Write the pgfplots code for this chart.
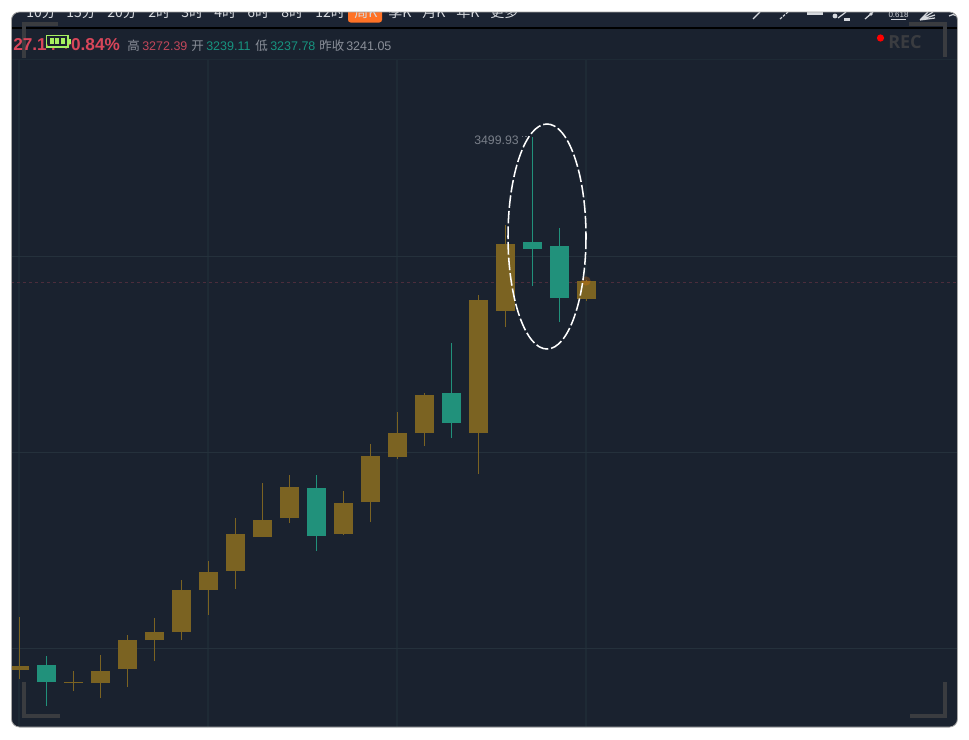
\documentclass[border=0pt]{standalone}
\usepackage{fontspec}
\setmainfont{Liberation Sans}
\newfontfamily\cjk{Noto Sans CJK SC}
\newfontfamily\recfont{Open Sans}
\usepackage{pgfplots}
\usepackage{pgfplotstable}
\pgfplotsset{compat=1.18}

\definecolor{bg}{HTML}{1A222F}
\definecolor{topbg}{HTML}{1C2433}
\definecolor{gridc}{HTML}{1E2A35}
\definecolor{gridh}{HTML}{25313C}
\definecolor{gold}{HTML}{7B6322}
\definecolor{teal2}{HTML}{21917B}
\definecolor{upred}{HTML}{D9465A}
\definecolor{txtred}{HTML}{C2475A}
\definecolor{txtteal}{HTML}{17937F}
\definecolor{greytxt}{HTML}{8A8F99}
\definecolor{bracket}{HTML}{3A3C40}
\definecolor{menu}{HTML}{D5D8DD}
\definecolor{batt}{HTML}{A6F060}

% i low bot top high (prices)
\pgfplotstableread{
i low bot top high
0 2633.2 2647.6 2654.0 2732.4
2 2614.0 2626.8 2628.4 2646.0
3 2602.8 2626.8 2646.0 2671.6
4 2620.4 2649.2 2695.6 2703.6
5 2662.0 2695.6 2708.4 2730.8
6 2695.6 2708.4 2775.6 2791.6
7 2735.6 2775.6 2804.4 2822.0
8 2777.2 2806.0 2865.2 2890.8
9 2860.4 2860.4 2887.6 2946.8
10 2882.8 2890.8 2940.4 2959.6
12 2863.6 2865.2 2914.8 2934.0
13 2884.4 2916.4 2990.0 3009.2
14 2985.2 2988.4 3026.8 3060.4
15 3006.0 3026.8 3087.6 3090.8
17 2961.2 3026.8 3239.6 3247.6
18 3196.4 3222.0 3329.2 3359.6
21 3237.78 3241.2 3270.0 3272.39
}\upcandles
\pgfplotstableread{
i low bot top high
1 2590.0 2628.4 2655.6 2670.0
11 2838.0 2862.0 2938.8 2959.6
16 3018.8 3042.8 3090.8 3170.8
19 3262.0 3321.2 3332.4 3499.93
20 3204.4 3242.8 3326.0 3354.8
}\downcandles

\newcommand{\fs}[1]{\fontsize{\fpeval{#1*0.75}pt}{\fpeval{#1*0.9}pt}\selectfont}

\begin{document}
\begin{tikzpicture}
\fill[white] (0,0) rectangle (726.75pt,-554.25pt);
\path[use as bounding box] (0,0) rectangle (726.75pt,-554.25pt);
\begin{scope}
\clip[rounded corners=6pt] (8.6pt,-9pt) rectangle (718.1pt,-545.25pt);
\fill[bg] (0,0) rectangle (726.75pt,-554.25pt);
\fill[topbg] (0,0) rectangle (726.75pt,-20.25pt);

\begin{axis}[
  at={(8.25pt,-545.25pt)}, anchor=south west,
  scale only axis, width=710.25pt, height=501pt,
  xmin=-0.2963, xmax=34.778, ymin=2556.4, ymax=3625.2,
  xtick={0,7,14,21}, ytick={2682.8,2996.4,3310},
  xticklabels={}, yticklabels={},
  major tick length=0pt,
  xmajorgrids, ymajorgrids,
  x grid style={gridc,line width=1.4pt},
  y grid style={gridh,line width=0.75pt},
  axis line style={gridc,line width=0.75pt},
]
  % dotted line at the last close
  \addplot[color=txtred!30!bg,line width=0.75pt,dash pattern=on 2.25pt off 2.25pt] coordinates {(-0.2963,3268.4) (34.778,3268.4)};

  % wicks
  \addplot[draw=none,error bars/.cd,y dir=plus,y explicit,error mark=none,
    error bar style={gold,line width=0.75pt}]
    table[x=i,y=low,y error expr=\thisrow{high}-\thisrow{low}] {\upcandles};
  \addplot[draw=none,error bars/.cd,y dir=plus,y explicit,error mark=none,
    error bar style={teal2,line width=0.75pt}]
    table[x=i,y=low,y error expr=\thisrow{high}-\thisrow{low}] {\downcandles};
  % bodies
  \addplot[draw=none,error bars/.cd,y dir=plus,y explicit,error mark=none,
    error bar style={gold,line width=14.25pt}]
    table[x=i,y=bot,y error expr=\thisrow{top}-\thisrow{bot}] {\upcandles};
  \addplot[draw=none,error bars/.cd,y dir=plus,y explicit,error mark=none,
    error bar style={teal2,line width=14.25pt}]
    table[x=i,y=bot,y error expr=\thisrow{top}-\thisrow{bot}] {\downcandles};
\end{axis}

\begin{scope}[x=0.75pt,y=-0.75pt]
% header line
\fill[black] (0,26.8) rectangle (969,28.6);

% menu, cut off by the top edge
\fill[rounded corners=2pt,fill=orange!70!red!85!white] (348,5) rectangle (382,22.5);
\foreach \x/\t in {26/10分,66/15分,107/20分,148/2时,181/3时,214/4时,247/6时,281/8时,315/12时,354/周K,388/季K,422/月K,456/年K,490/更多}
  \node[anchor=base west,inner sep=0pt,text=menu,font=\cjk\fs{14}] at (\x,17.5) {\t};

% right toolbar
\begin{scope}[menu,line width=0.9pt]
  \draw (753,19)--(760,12);
  \draw[dash pattern=on 2pt off 1pt] (780,19)--(788,12);
  \fill (807,12) rectangle (823,14.5);
  \draw (838,18)--(846,12);
  \fill (835,16) circle (1.8pt);
  \fill (844,18) rectangle (850,21);
  \draw (865,19)--(873,12);
  \fill (871,14) circle (1.4pt);
  \node[anchor=base,inner sep=0pt,font=\fs{8}] at (898.5,17) {0.618};
  \draw (891,19.5)--(906,19.5);
  \draw (920,20)--(933,12) (920,20)--(935,15) (920,20)--(928,12) (920,20)--(935,18);
  \draw (949,16) to[bend left=40] (957,16);
\end{scope}

% corner brackets
\begin{scope}[bracket,line width=2.5pt]
  \draw (24,58)--(24,24)--(58,24);
  \draw (909,24)--(945,24)--(945,57);
  \draw (24,682)--(24,716)--(60,716);
  \draw (910,716)--(945,716)--(945,682);
\end{scope}

% quote line
\node[anchor=base west,inner sep=0pt,text=upred,font=\bfseries\fs{17.2}] at (13,50) {27.14 +0.84\%};
\draw[draw=batt,line width=1pt] (46.5,35.5) rectangle (68,47);
\fill[batt] (68,38.5) rectangle (70.5,44);
\fill[bg] (47.5,36.5) rectangle (67,46);
\foreach \x in {49.5,55,60.5} \fill[batt] (\x,37.5) rectangle ++(4,6);
\foreach \x/\t/\c/\f in {127/高/greytxt/\cjk,191/开/greytxt/\cjk,255/低/greytxt/\cjk,319/昨收/greytxt/\cjk,
  142/3272.39/txtred/\rmfamily,206/3239.11/txtteal/\rmfamily,270/3237.78/txtteal/\rmfamily,346/3241.05/greytxt/\rmfamily}
  \node[anchor=base west,inner sep=0pt,text=\c,font=\f\fs{12.5}] at (\x,50) {\t};

% REC mark
\fill[red] (880.5,38) circle (2.7pt);
\node[anchor=base west,inner sep=0pt,text=bracket,font=\recfont\bfseries\fs{18}] at (888,48) {REC};

% label of the high
\node[anchor=base west,inner sep=0pt,text=greytxt!85!bg,font=\fs{12.3}] at (474,144) {3499.93};
\draw[greytxt!70!bg,line width=0.6pt,dash pattern=on 1pt off 1.5pt] (522,136) -- (531,136);

% glow on the last candle
\fill[orange,opacity=0.25] (586,281) circle (3.5pt);

% hand drawn ellipse
\draw[white,line width=1.15pt,dash pattern=on 9.5pt off 2.2pt] (547,236.5) ellipse [x radius=39,y radius=112.5];
\end{scope}
\end{scope}
\draw[rounded corners=6pt,color=black!35,line width=0.6pt] (8.6pt,-9pt) rectangle (718.1pt,-545.25pt);
\end{tikzpicture}
\end{document}
